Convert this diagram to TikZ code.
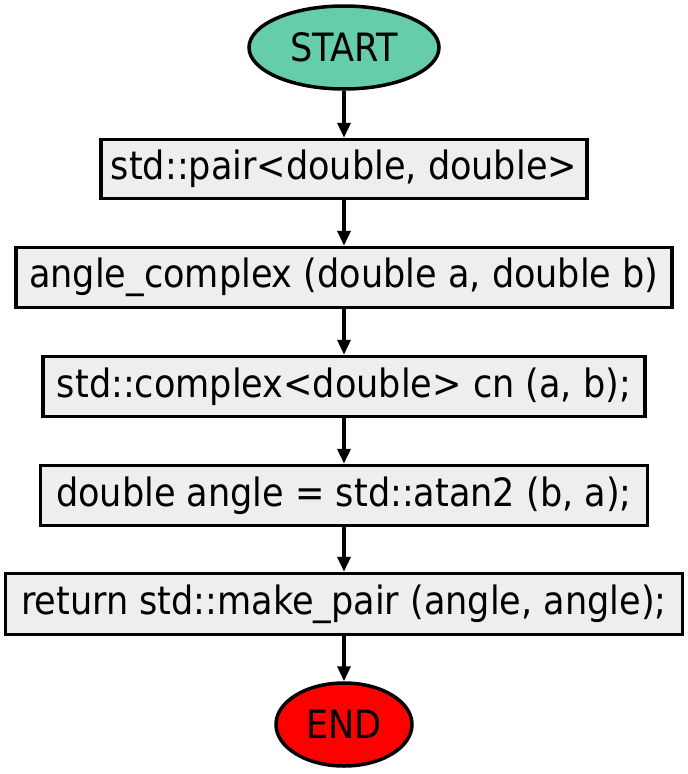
\documentclass[tikz,border=0pt]{standalone}
\usepackage{fontspec}
\setmainfont{DejaVu Sans Condensed}
\usetikzlibrary{shapes.geometric,arrows.meta}
\definecolor{startc}{HTML}{66CDAA}
\definecolor{boxc}{HTML}{EEEEEE}
\tikzset{
  stepbox/.style={draw=black, line width=3.5pt, fill=boxc, inner sep=0pt, font=\fontsize{39}{44}\selectfont},
  term/.style={ellipse, draw=black, line width=3.5pt, inner sep=0pt, font=\fontsize{39}{44}\selectfont},
  flow/.style={line width=3.5pt, -{Triangle[length=15pt,width=13pt]}}
}
\begin{document}
\begin{tikzpicture}[x=1pt,y=-1pt]
\useasboundingbox (0,0) rectangle (688,774);
\node[term, fill=startc, minimum width=190pt, minimum height=83pt] (start) at (344,47.5) {START};
\node[stepbox, minimum width=486pt, minimum height=59pt] (b1) at (344,169) {std::pair<double, double>};
\node[stepbox, minimum width=656pt, minimum height=60pt] (b2) at (344,277.5) {angle\_complex (double a, double b)};
\node[stepbox, minimum width=602pt, minimum height=60pt] (b3) at (344,386.5) {std::complex<double> cn (a, b);};
\node[stepbox, minimum width=607pt, minimum height=60pt] (b4) at (344,495.5) {double angle = std::atan2 (b, a);};
\node[stepbox, minimum width=677pt, minimum height=61pt] (b5) at (344,604) {return std::make\_pair (angle, angle);};
\node[term, fill=red, minimum width=136pt, minimum height=83pt] (end) at (344,724.5) {END};
\draw[flow] (start) -- (b1);
\draw[flow] (b1) -- (b2);
\draw[flow] (b2) -- (b3);
\draw[flow] (b3) -- (b4);
\draw[flow] (b4) -- (b5);
\draw[flow] (b5) -- (end);
\end{tikzpicture}
\end{document}
